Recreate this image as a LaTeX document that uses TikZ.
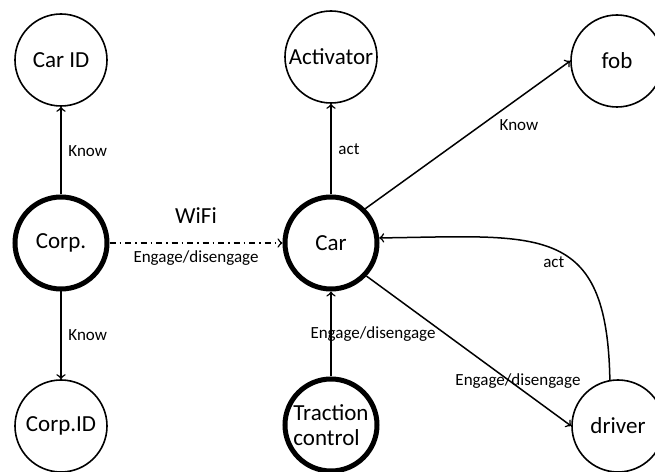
\documentclass[tikz,border=0pt]{standalone}
\usepackage{fontspec}
\setmainfont{Carlito}
\usepackage{tikz}

\begin{document}
\begin{tikzpicture}[x=0.5pt, y=0.5pt,
  state/.style={circle, draw, line width=0.8pt, minimum size=46pt, inner sep=0pt, font=\fontsize{11.5}{12.5}\selectfont},
  mainstate/.style={state, line width=2.5pt},
  lbl/.style={font=\fontsize{8.5}{10}\selectfont},
  edge/.style={->, line width=0.75pt}]

\useasboundingbox (0,0) rectangle (655,472);

% Nodes
\node[state] (carid) at (61,412) {Car ID};
\node[state] (activator) at (331,415) {Activator};
\node[state] (fob) at (617,411) {fob};
\node[mainstate] (corp) at (61,229) {Corp.};
\node[mainstate] (car) at (331,229) {Car};
\node[state] (corpid) at (61,46) {Corp.ID};
\node[mainstate, align=left] (traction) at (331,47) {Traction\\control};
\node[state] (driver) at (618,46) {driver};

% Left column
\draw[edge] (corp) -- (carid) node[lbl, midway, right] {Know};
\draw[edge] (corp) -- (corpid) node[lbl, midway, right] {Know};
\draw[edge, dash dot] (corp) -- (car)
  node[midway, above=6pt, font=\fontsize{11.5}{12.5}\selectfont] {WiFi}
  node[lbl, midway, below] {Engage/disengage};

% Car connections
\draw[edge] (car) -- (activator) node[lbl, midway, right] {act};
\draw[edge] (car.45) -- (fob.west) node[lbl, pos=0.75, below=7pt] {Know};
\draw[edge] (traction) -- (car) node[lbl, midway, xshift=21pt] {Engage/disengage};
\draw[edge] (car.-43) -- (driver.west) node[lbl, pos=0.74, yshift=3pt] {Engage/disengage};
\draw[edge] (driver.100) .. controls (607,250) and (540,236) .. (car.6)
  node[lbl, pos=0.5, below] {act};

\end{tikzpicture}
\end{document}
